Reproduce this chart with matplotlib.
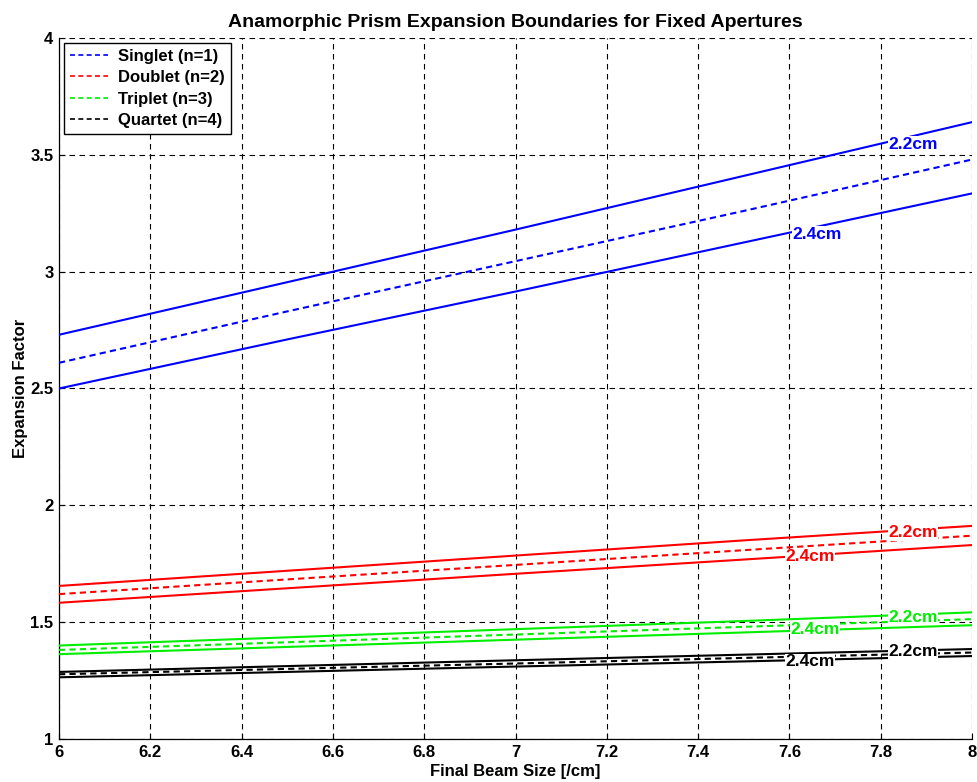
import matplotlib
matplotlib.use("Agg")
import matplotlib.pyplot as plt
from matplotlib.lines import Line2D

plt.rcParams['font.family'] = ['Liberation Sans', 'DejaVu Sans']
plt.rcParams['font.weight'] = 'bold'

x = [6.0, 6.5, 7.0, 7.5, 8.0]

singlet_22 = [2.73, 2.955, 3.18, 3.41, 3.64]
singlet_mid = [2.61, 2.83, 3.045, 3.26, 3.48]
singlet_24 = [2.50, 2.71, 2.915, 3.125, 3.335]

doublet_22 = [1.655, 1.72, 1.785, 1.85, 1.912]
doublet_mid = [1.62, 1.683, 1.745, 1.808, 1.87]
doublet_24 = [1.583, 1.645, 1.707, 1.768, 1.83]

triplet_22 = [1.40, 1.435, 1.47, 1.505, 1.542]
triplet_mid = [1.381, 1.414, 1.447, 1.48, 1.513]
triplet_24 = [1.363, 1.394, 1.425, 1.456, 1.487]

quartet_22 = [1.287, 1.312, 1.337, 1.361, 1.385]
quartet_mid = [1.277, 1.300, 1.323, 1.347, 1.37]
quartet_24 = [1.264, 1.287, 1.31, 1.332, 1.355]

series_names = ['Singlet (n=1)', 'Doublet (n=2)', 'Triplet (n=3)', 'Quartet (n=4)']
colors = ['#0000ff', '#ff0000', '#00ee00', '#000000']
groups = [
    (singlet_22, singlet_mid, singlet_24),
    (doublet_22, doublet_mid, doublet_24),
    (triplet_22, triplet_mid, triplet_24),
    (quartet_22, quartet_mid, quartet_24),
]
# inline label positions (x, y) for 2.2cm and 2.4cm
label_22 = [(7.87, 3.545), (7.87, 1.883), (7.87, 1.522), (7.87, 1.375)]
label_24 = [(7.66, 3.16), (7.645, 1.78), (7.655, 1.467), (7.645, 1.33)]

fig = plt.figure(figsize=(9.77, 7.82), dpi=100)
ax = fig.add_axes([0.0604, 0.055, 0.9346, 0.8964])

for (top, mid, bot), c in zip(groups, colors):
    ax.plot(x, top, color=c, lw=1.5, zorder=3)
    ax.plot(x, mid, color=c, lw=1.5, ls=(0, (3, 2)), zorder=3)
    ax.plot(x, bot, color=c, lw=1.5, zorder=3)

for (lx, ly), c in zip(label_22, colors):
    ax.text(lx, ly, '2.2cm', color=c, fontsize=12.5, fontweight='bold', ha='center', va='center',
            zorder=5, bbox=dict(facecolor='white', edgecolor='none', pad=0.3))
for (lx, ly), c in zip(label_24, colors):
    ax.text(lx, ly, '2.4cm', color=c, fontsize=12.5, fontweight='bold', ha='center', va='center',
            zorder=5, bbox=dict(facecolor='white', edgecolor='none', pad=0.3))

ax.set_xlim(6, 8)
ax.set_ylim(1, 4)
ax.set_xticks([6, 6.2, 6.4, 6.6, 6.8, 7, 7.2, 7.4, 7.6, 7.8, 8])
ax.set_xticklabels(['6', '6.2', '6.4', '6.6', '6.8', '7', '7.2', '7.4', '7.6', '7.8', '8'])
ax.set_yticks([1, 1.5, 2, 2.5, 3, 3.5, 4])
ax.set_yticklabels(['1', '1.5', '2', '2.5', '3', '3.5', '4'])
ax.tick_params(labelsize=12, direction='in', length=4, width=0.8, pad=4)
for lab in ax.get_xticklabels() + ax.get_yticklabels():
    lab.set_fontweight('bold')

ax.grid(True, color='black', ls=(0, (5, 4)), lw=0.8, zorder=1)
ax.set_axisbelow(True)
ax.spines['top'].set_visible(False)
ax.spines['right'].set_visible(False)
ax.spines['left'].set_linewidth(0.9)
ax.spines['bottom'].set_linewidth(0.9)

ax.set_title('Anamorphic Prism Expansion Boundaries for Fixed Apertures', fontsize=14,
             fontweight='bold', pad=8)
ax.set_xlabel('Final Beam Size [/cm]', fontsize=12, fontweight='bold', labelpad=3)
ax.set_ylabel('Expansion Factor', fontsize=12, fontweight='bold', labelpad=2)

handles = [Line2D([0], [0], color=c, lw=1.2, ls=(0, (3, 2))) for c in colors]
leg = ax.legend(handles, series_names, loc='upper left', fontsize=12, frameon=True,
                fancybox=False, edgecolor='black', framealpha=1, borderaxespad=0.3,
                handlelength=2.3, handletextpad=0.6, labelspacing=0.38, borderpad=0.35)
leg.get_frame().set_linewidth(1.0)
for t in leg.get_texts():
    t.set_fontweight('bold')
leg.set_zorder(6)

fig.savefig('out.png', dpi=100)
